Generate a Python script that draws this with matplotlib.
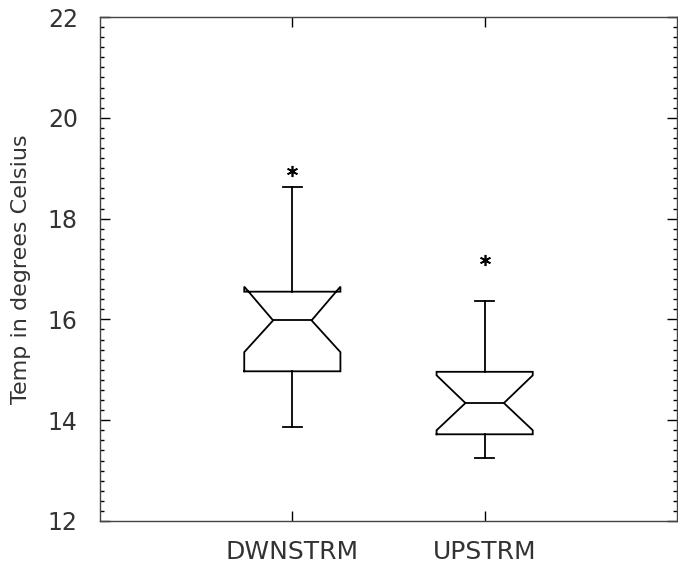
import matplotlib.pyplot as plt
from matplotlib.ticker import MultipleLocator

groups = ["DWNSTRM", "UPSTRM"]
q1 = [14.97, 13.72]
median = [15.98, 14.34]
q3 = [16.55, 14.96]
whisker_lo = [13.87, 13.24]
whisker_hi = [18.63, 16.37]
notch_lo = [15.35, 13.80]
notch_hi = [16.65, 14.89]
outliers = [[18.94], [17.17]]

box_width = 0.5
notch_width = 0.2
cap_width = 0.1
text_color = "#333333"

plt.rcParams["font.family"] = "DejaVu Sans"

fig = plt.figure(figsize=(6.78, 5.71), dpi=100)
ax = fig.add_axes([0.1475, 0.0876, 0.851, 0.8826])

for i, name in enumerate(groups):
    x = i + 1
    left, right = x - box_width / 2, x + box_width / 2
    nl, nr = x - notch_width / 2, x + notch_width / 2

    # notched box outline
    bx = [left, left, nl, left, left, right, right, nr, right, right, left]
    by = [q1[i], notch_lo[i], median[i], notch_hi[i], q3[i], q3[i],
          notch_hi[i], median[i], notch_lo[i], q1[i], q1[i]]
    ax.plot(bx, by, color="black", lw=1.3, solid_joinstyle="miter")
    ax.plot([nl, nr], [median[i], median[i]], color="black", lw=1.3)

    # whiskers and caps
    ax.plot([x, x], [q3[i], whisker_hi[i]], color="black", lw=1.3)
    ax.plot([x, x], [q1[i], whisker_lo[i]], color="black", lw=1.3)
    for w in (whisker_lo[i], whisker_hi[i]):
        ax.plot([x - cap_width / 2, x + cap_width / 2], [w, w], color="black", lw=1.3)

    # far values
    ax.plot([x] * len(outliers[i]), outliers[i], linestyle="none",
            marker=(6, 2, 0), markersize=8, color="black", mew=1.2)

ax.set_xlim(0, 3)
ax.set_ylim(12, 22)
ax.set_xticks([1, 2])
ax.set_xticklabels(groups, fontsize=18, color=text_color)
ax.yaxis.set_major_locator(MultipleLocator(2))
ax.yaxis.set_minor_locator(MultipleLocator(0.2))
ax.tick_params(axis="y", which="major", direction="in", length=7, width=1,
               left=True, right=True, labelsize=17, labelcolor=text_color, pad=16)
ax.tick_params(axis="y", which="minor", direction="in", length=3, width=1,
               left=True, right=True)
ax.tick_params(axis="x", which="major", direction="in", length=7, width=1,
               top=True, bottom=True, pad=14)
ax.set_ylabel("Temp in degrees Celsius", fontsize=16, color=text_color, labelpad=12)

for s in ax.spines.values():
    s.set_color("#444444")
    s.set_linewidth(1)

fig.savefig("out.png", dpi=100)
